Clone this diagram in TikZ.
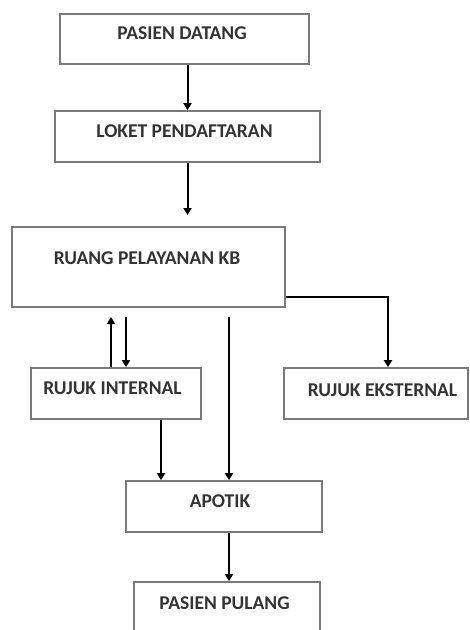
\documentclass[tikz,border=0pt]{standalone}
\usepackage{fontspec}
\setmainfont{Carlito}
\usetikzlibrary{arrows.meta}
\definecolor{boxgray}{HTML}{7A7A7A}
\definecolor{txtgray}{HTML}{333333}
\tikzset{
  box/.style={draw=boxgray, line width=1.7pt, rectangle, inner sep=0pt, fill=white},
  lbl/.style={font=\fontsize{19.5}{22}\selectfont\bfseries, text=txtgray, inner sep=0pt, text height=12.5pt, text depth=0pt, anchor=center},
  arr/.style={draw=black, line width=2pt, -{Triangle[length=7pt,width=8pt]}},
}
\begin{document}
\begin{tikzpicture}[x=1pt,y=-1pt]
\useasboundingbox (0,0) rectangle (470,630);
% boxes
\node[box, minimum width=249pt, minimum height=50pt] (pd) at (184.5,39) {};
\node[box, minimum width=265pt, minimum height=51pt] (lp) at (187.5,136.5) {};
\node[box, minimum width=273pt, minimum height=80pt] (rk) at (148.5,267) {};
\node[box, minimum width=170pt, minimum height=51pt] (ri) at (116,393.5) {};
\node[box, minimum width=184pt, minimum height=51pt] (re) at (376,393.5) {};
\node[box, minimum width=196pt, minimum height=51pt] (ap) at (224,506.5) {};
\node[box, minimum width=186pt, minimum height=58pt] (pp) at (227,611) {};
% labels
\node[lbl] (tpd) at (182,33) {PASIEN DATANG};
\node[lbl] (tlp) at (184.5,131) {LOKET PENDAFTARAN};
\node[lbl] (trk) at (147,258) {RUANG PELAYANAN KB};
\node[lbl] (tri) at (112.5,388) {RUJUK INTERNAL};
\node[lbl] (tre) at (382.5,390) {RUJUK EKSTERNAL};
\node[lbl] (tap) at (220,501) {APOTIK};
\node[lbl] (tpp) at (224.5,603) {PASIEN PULANG};
% free ends
\coordinate (e1) at (187.5,215);
\coordinate (up) at (111,317);
\coordinate (dn) at (126,317);
\coordinate (lg) at (229,317);
% connectors
\draw[arr] (pd.south -| lp.north) -- (lp.north);
\draw[arr] (lp.south) -- (e1);
\draw[arr] ([yshift=-30pt]rk.east) -| ([xshift=12pt]re.north);
\draw[arr] ([xshift=-5pt]ri.north) -- (up);
\draw[arr] (dn) -- ([xshift=10pt]ri.north);
\draw[arr] (lg) -- ([xshift=5pt]ap.north);
\draw[arr] ([xshift=45pt]ri.south) -- ([xshift=45pt]ri.south |- ap.north);
\draw[arr] ([xshift=5pt]ap.south) -- ([xshift=5pt]ap.south |- pp.north);
\end{tikzpicture}
\end{document}
